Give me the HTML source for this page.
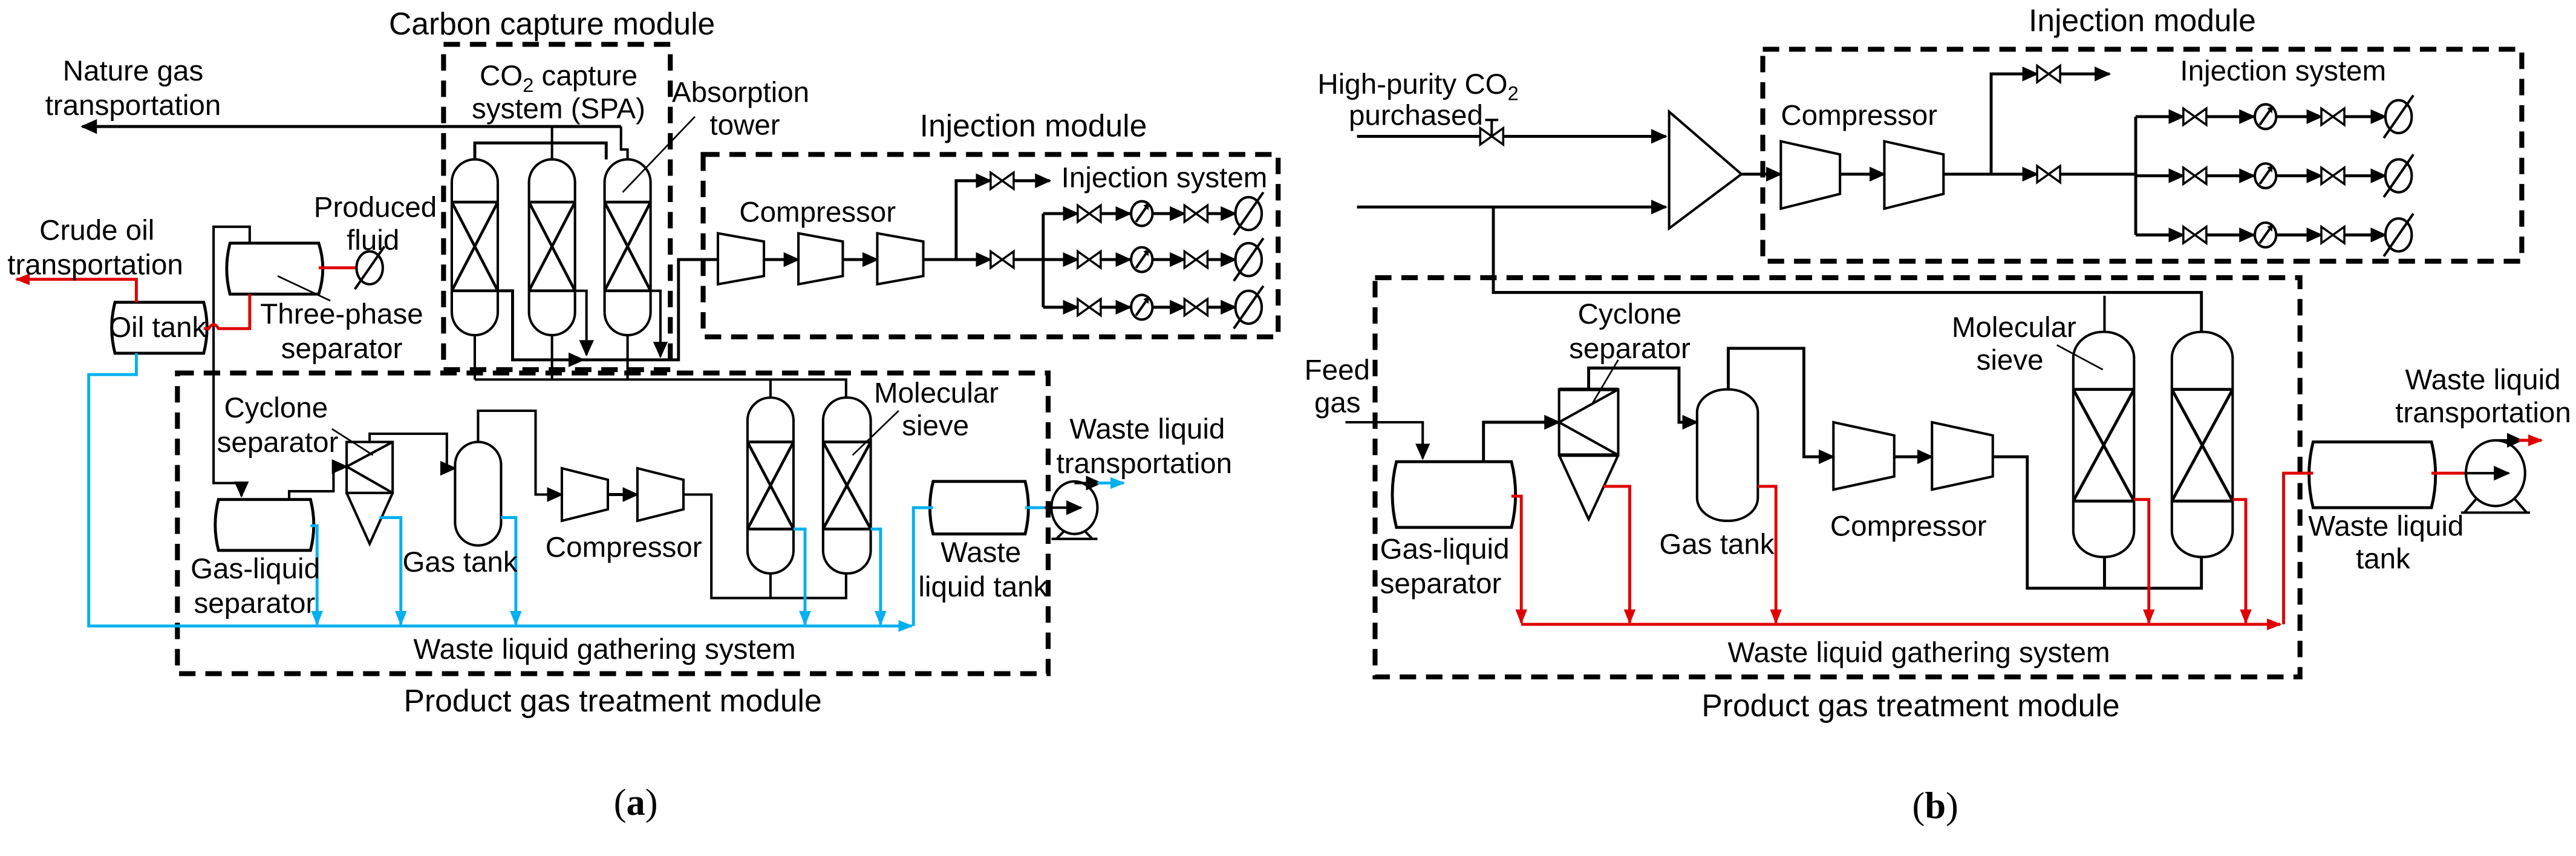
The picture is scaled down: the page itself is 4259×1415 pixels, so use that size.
<!DOCTYPE html>
<html><head><meta charset="utf-8"><style>
html,body{margin:0;padding:0;background:#fff;}
svg{display:block;}
text{font-family:"Liberation Sans",Arial,sans-serif;font-size:17.5px;fill:#000;}
.t{font-size:19px;}
.cap{font-family:"Liberation Serif",serif;font-size:23px;}
</style></head><body>
<svg width="4259" height="1415" viewBox="0 0 1568 521" preserveAspectRatio="none" xmlns="http://www.w3.org/2000/svg">
<defs>
<marker id="ak" markerUnits="userSpaceOnUse" markerWidth="10" markerHeight="10" viewBox="0 0 10 10" refX="9" refY="5" orient="auto"><path d="M0,0.5 L10,5 L0,9.5z" fill="#000"/></marker>
<marker id="ab" markerUnits="userSpaceOnUse" markerWidth="9" markerHeight="9" viewBox="0 0 10 10" refX="9" refY="5" orient="auto"><path d="M0,1 L10,5 L0,9z" fill="#00b0f0"/></marker>
<marker id="ar" markerUnits="userSpaceOnUse" markerWidth="9" markerHeight="9" viewBox="0 0 10 10" refX="9" refY="5" orient="auto"><path d="M0,1 L10,5 L0,9z" fill="#e00000"/></marker>
<g id="valve"><path d="M-7,-5 L7,5 L7,-5 L-7,5z" fill="#fff" stroke="#000" stroke-width="1.3"/></g>
<g id="fm"><ellipse cx="0" cy="0" rx="6.5" ry="7.5" fill="#fff" stroke="#000" stroke-width="1.5"/><line x1="-3.5" y1="5" x2="3.5" y2="-5" stroke="#000" stroke-width="1.5"/><path d="M4.5,-6.5 L1,-5 L4,-2z" fill="#000"/></g>
<g id="wh"><ellipse cx="0" cy="0" rx="8" ry="10" fill="#fff" stroke="#000" stroke-width="1.5"/><line x1="-9" y1="13" x2="9" y2="-13" stroke="#000" stroke-width="1.5"/></g>
</defs>

<g fill="none" stroke="#000" stroke-width="1.5">
<g stroke-width="3" stroke-dasharray="10,6">
<rect x="270" y="27" width="138" height="198"/>
<rect x="428" y="94" width="350" height="111"/>
<rect x="108" y="227" width="530" height="183"/>
</g>
<g>
<rect x="275" y="97" width="28" height="107" rx="14" ry="14"/>
<rect x="322" y="97" width="28" height="107" rx="14" ry="14"/>
<rect x="368" y="97" width="28" height="107" rx="14" ry="14"/>
<path d="M275,123h28M275,177h28M275,123L303,177M303,123L275,177" stroke-width="1.7"/>
<path d="M322,123h28M322,177h28M322,123L350,177M350,123L322,177" stroke-width="1.7"/>
<path d="M368,123h28M368,177h28M368,123L396,177M396,123L368,177" stroke-width="1.7"/>
</g>
<path d="M378,77 H50" marker-end="url(#ak)" stroke-width="1.8"/>
<path d="M336,97 V77 M382,97 V91 H378 V77"/>
<path d="M289,97 V87 H369 V97" stroke-width="1.8"/>
<path d="M303,177 H312 V219 H355" marker-end="url(#ak)" stroke-width="1.8"/>
<path d="M350,177 H357 V216" marker-end="url(#ak)"/>
<path d="M396,177 H402 V217" marker-end="url(#ak)"/>
<path d="M355,219 H413 V158 H437" stroke-width="1.8"/>
<path d="M289,204 V231 M336,204 V231 M382,204 V231 M289,231 H515 V242 M469,231 V242"/>
<line x1="423" y1="71" x2="379" y2="117" stroke-width="1"/>
<path d="M437,142 L465,147 V168 L437,173z"/>
<path d="M486,142 L513,147 V168 L486,173z"/>
<path d="M534,142 L562,147 V168 L534,173z"/>
<path d="M465,158 H486" marker-end="url(#ak)" stroke-width="1.8"/>
<path d="M513,158 H534" marker-end="url(#ak)" stroke-width="1.8"/>
<path d="M562,158 H603" marker-end="url(#ak)" stroke-width="1.8"/>
<path d="M582,158 V110 H603" marker-end="url(#ak)" stroke-width="1.8"/>
<path d="M617,110 H639" marker-end="url(#ak)" stroke-width="1.8"/>
<path d="M617,158 H635 V130 M635,158 V187" stroke-width="1.8"/>
<g stroke-width="1.8">
<path d="M635,130 H656" marker-end="url(#ak)"/><path d="M670,130 H688" marker-end="url(#ak)"/><path d="M702,130 H721" marker-end="url(#ak)"/><path d="M735,130 H752" marker-end="url(#ak)"/>
<path d="M635,158 H656" marker-end="url(#ak)"/><path d="M670,158 H688" marker-end="url(#ak)"/><path d="M702,158 H721" marker-end="url(#ak)"/><path d="M735,158 H752" marker-end="url(#ak)"/>
<path d="M635,187 H656" marker-end="url(#ak)"/><path d="M670,187 H688" marker-end="url(#ak)"/><path d="M702,187 H721" marker-end="url(#ak)"/><path d="M735,187 H752" marker-end="url(#ak)"/>
</g>
</g>
<use href="#valve" x="610" y="110"/><use href="#valve" x="610" y="158"/>
<use href="#valve" x="663" y="130"/><use href="#valve" x="663" y="158"/><use href="#valve" x="663" y="187"/>
<use href="#fm" x="695" y="130"/><use href="#fm" x="695" y="158"/><use href="#fm" x="695" y="187"/>
<use href="#valve" x="728" y="130"/><use href="#valve" x="728" y="158"/><use href="#valve" x="728" y="187"/>
<use href="#wh" x="760" y="130"/><use href="#wh" x="760" y="158"/><use href="#wh" x="760" y="187"/>

<g fill="none" stroke="#000" stroke-width="1.5">
<path d="M140,148 H194 Q199,163.5 194,179 H140 Q136,163.5 140,148z" stroke-width="1.8"/>
<line x1="169" y1="168" x2="201" y2="183" stroke-width="1"/>
<path d="M70,184 H124 Q128,199.5 124,215 H70 Q66,199.5 70,184z" stroke-width="1.8"/>
<path d="M152,148 V138 H130 V294 H147 V302" marker-end="url(#ak)"/>
<path d="M133,304 H189 Q193,319.5 189,335 H133 Q129,319.5 133,304z" stroke-width="1.8"/>
<rect x="211" y="269" width="28" height="31"/>
<path d="M239,269 L211,284 L239,300 M211,300 L225,331 L239,300"/>
<path d="M176,304 V299 H203 V284 H211" marker-end="url(#ak)"/>
<path d="M225,269 V264 H272 V285 H277" marker-end="url(#ak)"/>
<line x1="202" y1="261" x2="227" y2="277" stroke-width="1"/>
<rect x="277" y="269" width="28" height="63" rx="14" ry="14"/>
<path d="M291,269 V250 H326 V301 H342" marker-end="url(#ak)"/>
<path d="M342,285 L370,292 V310 L342,317z"/>
<path d="M388,285 L416,292 V310 L388,317z"/>
<path d="M370,301 H388" marker-end="url(#ak)" stroke-width="1.8"/>
<path d="M416,301 H433 V364 H515 V349 M469,364 V349"/>
<rect x="455" y="242" width="28" height="107" rx="14" ry="14"/>
<rect x="501" y="242" width="29" height="107" rx="14" ry="14"/>
<path d="M455,269h28M455,322h28M455,269L483,322M483,269L455,322" stroke-width="1.7"/>
<path d="M501,269h29M501,322h29M501,269L530,322M530,269L501,322" stroke-width="1.7"/>
<line x1="547" y1="250" x2="519" y2="277" stroke-width="1"/>
<path d="M568,293 H624 Q628,309 624,325 H568 Q564,309 568,293z" stroke-width="1.8"/>
<ellipse cx="654" cy="309" rx="14" ry="16"/>
<path d="M643,328 L648,323 M665,328 L660,323 M640,328 H668"/>
<path d="M636,309 H658" marker-end="url(#ak)"/>
<path d="M654,294 H670" marker-end="url(#ak)"/>
</g>
<g fill="none" stroke="#e00000" stroke-width="1.8">
<path d="M194,163 H217"/>
<path d="M152,179 V200 H133 Q130,195 127,200 H124"/>
<path d="M83,184 V170 H10" marker-end="url(#ar)"/>
</g>
<use href="#wh" x="225" y="163"/>
<g fill="none" stroke="#00b0f0" stroke-width="1.8">
<path d="M83,215 V228 H54 V381 H555" marker-end="url(#ab)"/>
<path d="M556,381 V309 H568"/>
<path d="M189,320 H193 V380" marker-end="url(#ab)"/>
<path d="M231,315 H244 V380" marker-end="url(#ab)"/>
<path d="M305,315 H314 V380" marker-end="url(#ab)"/>
<path d="M483,322 H490 V380" marker-end="url(#ab)"/>
<path d="M530,322 H536 V380" marker-end="url(#ab)"/>
<path d="M624,309 H636"/>
<path d="M668,294 H684" marker-end="url(#ab)"/>
</g>

<g fill="none" stroke="#000" stroke-width="1.5">
<g stroke-width="3" stroke-dasharray="10,6">
<rect x="1073" y="30" width="462" height="129"/>
<rect x="837" y="169" width="563" height="243"/>
</g>
<path d="M826,83 H1014" marker-end="url(#ak)" stroke-width="1.8"/>
<path d="M908,83 V73 M904,73 H912"/>
<path d="M826,126 H1014" marker-end="url(#ak)" stroke-width="1.8"/>
<path d="M1016,68 L1060,106 L1016,139z"/>
<path d="M1060,106 H1084" marker-end="url(#ak)" stroke-width="1.8"/>
<path d="M1084,86 L1120,94 V118 L1084,127z"/>
<path d="M1147,86 L1183,94 V118 L1147,127z"/>
<path d="M1120,106 H1147" marker-end="url(#ak)" stroke-width="1.8"/>
<path d="M1183,106 H1240" marker-end="url(#ak)" stroke-width="1.8"/>
<path d="M1212,106 V45 H1240" marker-end="url(#ak)" stroke-width="1.8"/>
<path d="M1254,45 H1284" marker-end="url(#ak)" stroke-width="1.8"/>
<path d="M1254,106 H1300 V71 M1300,106 V143" stroke-width="1.8"/>
<g stroke-width="1.8">
<path d="M1300,71 H1329" marker-end="url(#ak)"/><path d="M1343,71 H1372" marker-end="url(#ak)"/><path d="M1386,71 H1413" marker-end="url(#ak)"/><path d="M1427,71 H1452" marker-end="url(#ak)"/>
<path d="M1300,107 H1329" marker-end="url(#ak)"/><path d="M1343,107 H1372" marker-end="url(#ak)"/><path d="M1386,107 H1413" marker-end="url(#ak)"/><path d="M1427,107 H1452" marker-end="url(#ak)"/>
<path d="M1300,143 H1329" marker-end="url(#ak)"/><path d="M1343,143 H1372" marker-end="url(#ak)"/><path d="M1386,143 H1413" marker-end="url(#ak)"/><path d="M1427,143 H1452" marker-end="url(#ak)"/>
</g>
</g>
<use href="#valve" x="908" y="83"/>
<use href="#valve" x="1247" y="45"/><use href="#valve" x="1247" y="106"/>
<use href="#valve" x="1336" y="71"/><use href="#valve" x="1336" y="107"/><use href="#valve" x="1336" y="143"/>
<use href="#fm" x="1379" y="71"/><use href="#fm" x="1379" y="107"/><use href="#fm" x="1379" y="143"/>
<use href="#valve" x="1420" y="71"/><use href="#valve" x="1420" y="107"/><use href="#valve" x="1420" y="143"/>
<use href="#wh" x="1460" y="71"/><use href="#wh" x="1460" y="107"/><use href="#wh" x="1460" y="143"/>

<g fill="none" stroke="#000" stroke-width="1.5">
<path d="M909,126 V178 H1340 V202" stroke-width="1.8"/>
<path d="M1281,180 V202"/>
<path d="M819,257 H866 V279" marker-end="url(#ak)"/>
<path d="M850,281 H920 Q925,301 920,321 H850 Q845,301 850,281z" stroke-width="1.8"/>
<path d="M903,281 V257 H949" marker-end="url(#ak)" stroke-width="1.8"/>
<rect x="949" y="237" width="36" height="40"/>
<path d="M949,237h36M949,277h36" stroke-width="2.2"/>
<path d="M985,237 L949,257 L985,277 M949,277 L967,316 L985,277"/>
<line x1="985" y1="219" x2="969" y2="246" stroke-width="1"/>
<path d="M967,237 V224 H1022 V257 H1033" marker-end="url(#ak)" stroke-width="1.8"/>
<rect x="1033" y="237" width="37" height="80" rx="18" ry="14"/>
<path d="M1052,237 V212 H1098 V278 H1116" marker-end="url(#ak)" stroke-width="1.8"/>
<path d="M1116,257 L1153,265 V290 L1116,298z"/>
<path d="M1176,257 L1213,265 V290 L1176,298z"/>
<path d="M1153,278 H1176" marker-end="url(#ak)" stroke-width="1.8"/>
<path d="M1213,278 H1234 V358 H1340 V339 M1281,358 V339" stroke-width="1.8"/>
<rect x="1262" y="202" width="37" height="137" rx="18" ry="16"/>
<rect x="1322" y="202" width="37" height="137" rx="18" ry="16"/>
<path d="M1262,237h37M1262,305h37M1262,237L1299,305M1299,237L1262,305" stroke-width="1.8"/>
<path d="M1322,237h37M1322,305h37M1322,237L1359,305M1359,237L1322,305" stroke-width="1.8"/>
<line x1="1252" y1="210" x2="1280" y2="225" stroke-width="1"/>
<path d="M1408,269 H1480 Q1485,289 1480,309 H1408 Q1403,289 1408,269z" stroke-width="1.8"/>
<ellipse cx="1519" cy="288" rx="18" ry="20"/>
<path d="M1507,304 L1500,312 M1531,304 L1538,312 M1498,312 H1540"/>
<path d="M1500,288 H1527" marker-end="url(#ak)"/>
<path d="M1519,268 H1535" marker-end="url(#ak)"/>
</g>
<g fill="none" stroke="#e00000" stroke-width="1.8">
<path d="M926,380 H1388" marker-end="url(#ar)"/>
<path d="M1390,380 V288 H1408"/>
<path d="M920,302 H926 V379" marker-end="url(#ar)"/>
<path d="M976,296 H992 V379" marker-end="url(#ar)"/>
<path d="M1070,296 H1081 V379" marker-end="url(#ar)"/>
<path d="M1299,304 H1308 V379" marker-end="url(#ar)"/>
<path d="M1359,304 H1367 V379" marker-end="url(#ar)"/>
<path d="M1480,288 H1500"/>
<path d="M1533,268 H1547" marker-end="url(#ar)"/>
</g>

<text class="t" x="336" y="21" text-anchor="middle">Carbon capture module</text>
<text x="81" y="49" text-anchor="middle">Nature  gas</text>
<text x="81" y="70" text-anchor="middle">transportation</text>
<text x="340" y="52" text-anchor="middle">CO<tspan font-size="12" dy="4">2</tspan><tspan dy="-4"> capture</tspan></text>
<text x="340" y="72" text-anchor="middle">system (SPA)</text>
<text x="409" y="62">Absorption</text>
<text x="432" y="82">tower</text>
<text class="t" x="629" y="83" text-anchor="middle">Injection module</text>
<text x="450" y="135">Compressor</text>
<text x="646" y="114">Injection system</text>
<text x="191" y="132">Produced</text>
<text x="211" y="152">fluid</text>
<text x="59" y="146" text-anchor="middle">Crude  oil</text>
<text x="58" y="167" text-anchor="middle">transportation</text>
<text x="208" y="197" text-anchor="middle">Three-phase</text>
<text x="208" y="218" text-anchor="middle">separator</text>
<text x="96" y="205" text-anchor="middle">Oil tank</text>
<text x="168" y="254" text-anchor="middle">Cyclone</text>
<text x="169" y="275" text-anchor="middle">separator</text>
<text x="532" y="245">Molecular</text>
<text x="549" y="265">sieve</text>
<text x="651" y="267">Waste liquid</text>
<text x="643" y="288">transportation</text>
<text x="116" y="352">Gas-liquid</text>
<text x="118" y="373">separator</text>
<text x="245" y="348">Gas tank</text>
<text x="332" y="339">Compressor</text>
<text x="597" y="342" text-anchor="middle">Waste</text>
<text x="559" y="363">liquid tank</text>
<text x="368" y="401" text-anchor="middle">Waste liquid gathering system</text>
<text class="t" x="373" y="433" text-anchor="middle">Product gas treatment module</text>
<text class="cap" x="387" y="496" text-anchor="middle">(<tspan font-weight="bold">a</tspan>)</text>

<text class="t" x="1304" y="19" text-anchor="middle">Injection module</text>
<text x="802" y="57">High-purity  CO<tspan font-size="12" dy="4">2</tspan></text>
<text x="821" y="76">purchased</text>
<text x="1084" y="76">Compressor</text>
<text x="1327" y="49">Injection system</text>
<text x="794" y="231">Feed</text>
<text x="800" y="251">gas</text>
<text x="992" y="197" text-anchor="middle">Cyclone</text>
<text x="992" y="218" text-anchor="middle">separator</text>
<text x="1188" y="205">Molecular</text>
<text x="1203" y="225">sieve</text>
<text x="840" y="340">Gas-liquid</text>
<text x="840" y="361">separator</text>
<text x="1010" y="337">Gas tank</text>
<text x="1114" y="326">Compressor</text>
<text x="1405" y="326">Waste liquid</text>
<text x="1434" y="346">tank</text>
<text x="1464" y="237">Waste liquid</text>
<text x="1458" y="257">transportation</text>
<text x="1168" y="403" text-anchor="middle">Waste liquid gathering system</text>
<text class="t" x="1163" y="436" text-anchor="middle">Product gas treatment module</text>
<text class="cap" x="1178" y="498" text-anchor="middle">(<tspan font-weight="bold">b</tspan>)</text>
</svg>
</body></html>
